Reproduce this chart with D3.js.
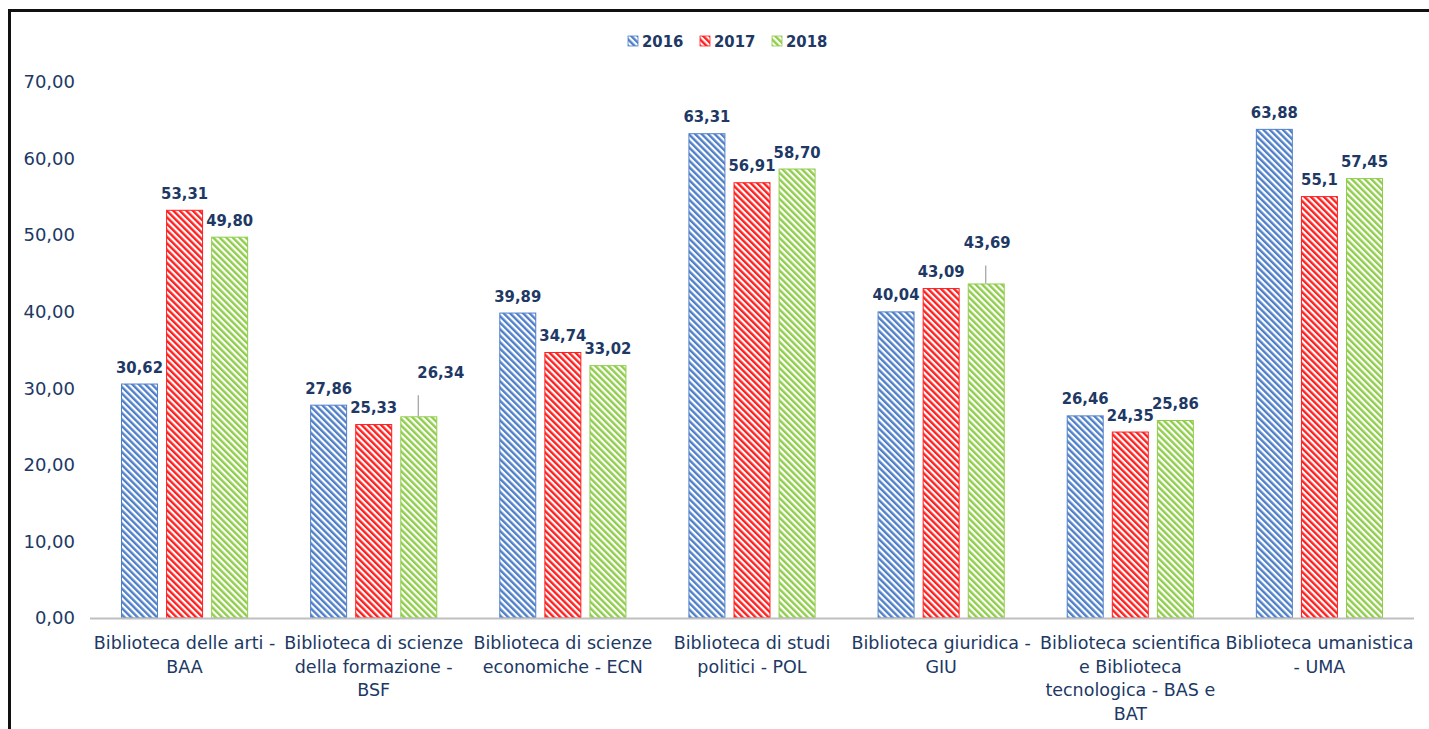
<!DOCTYPE html>
<html>
<head>
<meta charset="utf-8">
<script src="https://cdn.jsdelivr.net/npm/d3@7"></script>
<style>
	body { margin: 0; background: #fff; }
	svg { display: block; }
	text { font-family: "DejaVu Sans Condensed", "DejaVu Sans", sans-serif; fill: #203864; }
	.wide { font-family: "DejaVu Sans", sans-serif; }
</style>
</head>
<body>
<svg id="chart" width="1429" height="729"></svg>
<script>
// data
const categories = [
	["Biblioteca delle arti -", "BAA"],
	["Biblioteca di scienze", "della formazione -", "BSF"],
	["Biblioteca di scienze", "economiche - ECN"],
	["Biblioteca di studi", "politici - POL"],
	["Biblioteca giuridica -", "GIU"],
	["Biblioteca scientifica", "e Biblioteca", "tecnologica - BAS e", "BAT"],
	["Biblioteca umanistica", "- UMA"]
]
const years = ["2016", "2017", "2018"]
const values2016 = [30.62, 27.86, 39.89, 63.31, 40.04, 26.46, 63.88]
const values2017 = [53.31, 25.33, 34.74, 56.91, 43.09, 24.35, 55.1]
const values2018 = [49.80, 26.34, 33.02, 58.70, 43.69, 25.86, 57.45]
const labels2017 = ["53,31", "25,33", "34,74", "56,91", "43,09", "24,35", "55,1"]
const yTicks = [0, 10, 20, 30, 40, 50, 60, 70]

// style
const colors = { "2016": "#4f7fc8", "2017": "#ff1f1f", "2018": "#8fcd4a" }
const fmt = v => v.toFixed(2).replace(".", ",")

const series = [
	{ year: "2016", values: values2016, labels: values2016.map(fmt) },
	{ year: "2017", values: values2017, labels: labels2017 },
	{ year: "2018", values: values2018, labels: values2018.map(fmt) }
]

const svg = d3.select("#chart")

// hatch patterns
const defs = svg.append("defs")
for (let y of years) {
	let p = defs.append("pattern")
		.attr("id", "hatch" + y)
		.attr("patternUnits", "userSpaceOnUse")
		.attr("width", 4.6).attr("height", 4.6)
		.attr("patternTransform", "rotate(-45)")
	p.append("rect").attr("width", 4.6).attr("height", 4.6).attr("fill", "#fff")
	p.append("rect").attr("width", 2.4).attr("height", 4.6).attr("fill", colors[y])
}

// frame
svg.append("path")
	.attr("d", "M9.5,729 V10.5 H1429")
	.attr("fill", "none").attr("stroke", "#111").attr("stroke-width", 3)

// scales
const x0 = d3.scaleBand().domain(d3.range(categories.length)).range([90, 1414]).paddingInner(0).paddingOuter(0)
const x1 = d3.scaleBand().domain(years).range([31, x0.bandwidth() - 31]).paddingInner(0.18)
const y = d3.scaleLinear().domain([0, 70]).range([618, 82])

// y axis labels (no line, no ticks)
svg.append("g").selectAll("text").data(yTicks).join("text")
	.attr("class", "wide")
	.attr("x", 75).attr("y", d => y(d)).attr("dy", "0.35em")
	.attr("text-anchor", "end").attr("font-size", 18)
	.text(d => fmt(d))

// bars
const groups = svg.append("g").selectAll("g").data(series).join("g")
groups.selectAll("rect").data(s => s.values.map((v, i) => ({ year: s.year, v, i, label: s.labels[i] })))
	.join("rect")
	.attr("x", d => x0(d.i) + x1(d.year) + 0.5)
	.attr("y", d => y(d.v) + 0.5)
	.attr("width", x1.bandwidth() - 1)
	.attr("height", d => y(0) - y(d.v) - 0.5)
	.attr("fill", d => `url(#hatch${d.year})`)
	.attr("stroke", d => colors[d.year]).attr("stroke-width", 1)

// value labels, some moved with a leader line
const moved = { "2018-1": [22, -38], "2018-4": [1, -35] }
const labelData = series.flatMap(s => s.values.map((v, i) => ({ year: s.year, v, i, label: s.labels[i] })))
const lab = svg.append("g")
for (let d of labelData) {
	let cx = x0(d.i) + x1(d.year) + x1.bandwidth() / 2
	let off = moved[d.year + "-" + d.i]
	let ly = y(d.v) - 11
	if (off) {
		lab.append("line")
			.attr("x1", cx - 0.5).attr("x2", cx - 0.5)
			.attr("y1", y(d.v)).attr("y2", y(d.v) + off[1] + 17)
			.attr("stroke", "#a6a6a6").attr("stroke-width", 1.3)
		cx += off[0]
		ly += off[1] + 11
	}
	lab.append("text")
		.attr("x", cx).attr("y", ly)
		.attr("text-anchor", "middle").attr("font-size", 16.5).attr("font-weight", "bold")
		.text(d.label)
}

// x axis line
svg.append("line")
	.attr("x1", 90).attr("x2", 1414).attr("y1", 618.5).attr("y2", 618.5)
	.attr("stroke", "#bfbfbf").attr("stroke-width", 2)

// category labels
svg.append("g").selectAll("text").data(categories).join("text")
	.attr("class", "wide")
	.attr("text-anchor", "middle").attr("font-size", 17.5)
	.each(function (lines, i) {
		d3.select(this).selectAll("tspan").data(lines).join("tspan")
			.attr("x", x0(i) + x0.bandwidth() / 2)
			.attr("y", (l, k) => 649 + k * 23.5)
			.text(l => l)
	})

// legend
const legend = svg.append("g").selectAll("g").data(years).join("g")
	.attr("transform", (d, i) => `translate(${628 + i * 72},41)`)
legend.append("rect")
	.attr("x", 0).attr("y", -5).attr("width", 10).attr("height", 10)
	.attr("fill", d => `url(#hatch${d})`)
	.attr("stroke", d => colors[d]).attr("stroke-width", 0.8)
legend.append("text")
	.attr("x", 14).attr("y", 0).attr("dy", "0.36em")
	.attr("font-size", 16.5).attr("font-weight", "bold")
	.text(d => d)
</script>
</body>
</html>
